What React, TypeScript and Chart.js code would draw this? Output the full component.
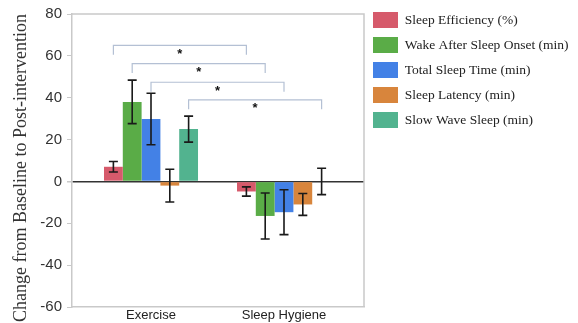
import React, { useEffect, useRef } from "react";
import { Chart, registerables } from "chart.js";

Chart.register(...registerables);

const categories = ["Exercise", "Sleep Hygiene"];
const seriesNames = [
  "Sleep Efficiency (%)",
  "Wake After Sleep Onset (min)",
  "Total Sleep Time (min)",
  "Sleep Latency (min)",
  "Slow Wave Sleep (min)",
];
const sleepEfficiency = [7, -4.8];
const wakeAfterSleepOnset = [38, -16.5];
const totalSleepTime = [29.8, -14.7];
const sleepLatency = [-2, -11];
const slowWaveSleep = [25, 0];

const sleepEfficiencyErr = [2.5, 2.2];
const wakeAfterSleepOnsetErr = [10.4, 11];
const totalSleepTimeErr = [12.3, 10.7];
const sleepLatencyErr = [7.8, 5.2];
const slowWaveSleepErr = [6.2, 6.3];

const yTickMin = -60;
const yTickMax = 80;
const yTickStep = 20;

// significance brackets: series index and bracket level (y value)
const bracketSeries = [0, 1, 2, 4];
const bracketLevels = [65, 56.3, 47.4, 39];
const bracketDrop = 4.5;

const seriesColors = ["#d65a6b", "#5aac47", "#4381e6", "#d8853c", "#52b38f"];

const seriesValues = [sleepEfficiency, wakeAfterSleepOnset, totalSleepTime, sleepLatency, slowWaveSleep];
const seriesErrors = [sleepEfficiencyErr, wakeAfterSleepOnsetErr, totalSleepTimeErr, sleepLatencyErr, slowWaveSleepErr];

const AXIS_GRAY = "#c9c9c9";

const errorBarPlugin = {
  id: "errorBars",
  afterDatasetsDraw(chart: any) {
    const ctx = chart.ctx;
    const y = chart.scales.y;
    ctx.save();
    ctx.strokeStyle = "#1a1a1a";
    ctx.lineWidth = 1.6;
    chart.data.datasets.forEach((ds: any, di: number) => {
      const meta = chart.getDatasetMeta(di);
      meta.data.forEach((bar: any, i: number) => {
        const v = seriesValues[di][i];
        const e = seriesErrors[di][i];
        const top = y.getPixelForValue(v + e);
        const bot = y.getPixelForValue(v - e);
        const x = bar.x;
        const cap = 4.5;
        ctx.beginPath();
        ctx.moveTo(x, top);
        ctx.lineTo(x, bot);
        ctx.moveTo(x - cap, top);
        ctx.lineTo(x + cap, top);
        ctx.moveTo(x - cap, bot);
        ctx.lineTo(x + cap, bot);
        ctx.stroke();
      });
    });
    ctx.restore();
  },
};

const bracketPlugin = {
  id: "brackets",
  afterDatasetsDraw(chart: any) {
    const ctx = chart.ctx;
    const y = chart.scales.y;
    ctx.save();
    bracketSeries.forEach((si, k) => {
      const meta = chart.getDatasetMeta(si);
      const x1 = meta.data[0].x;
      const x2 = meta.data[1].x;
      const yt = y.getPixelForValue(bracketLevels[k]);
      const yb = y.getPixelForValue(bracketLevels[k] - bracketDrop);
      ctx.strokeStyle = "#b4c0d4";
      ctx.lineWidth = 1.2;
      ctx.beginPath();
      ctx.moveTo(x1, yb);
      ctx.lineTo(x1, yt);
      ctx.lineTo(x2, yt);
      ctx.lineTo(x2, yb);
      ctx.stroke();
      ctx.fillStyle = "#111";
      ctx.font = "bold 13px 'Liberation Sans'";
      ctx.textAlign = "center";
      ctx.textBaseline = "middle";
      ctx.fillText("*", (x1 + x2) / 2, yt + 9);
    });
    ctx.restore();
  },
};

const boxPlugin = {
  id: "plotBox",
  beforeDatasetsDraw(chart: any) {
    const { ctx, chartArea } = chart;
    ctx.save();
    ctx.strokeStyle = AXIS_GRAY;
    ctx.lineWidth = 1.5;
    ctx.beginPath();
    ctx.moveTo(chartArea.left, chartArea.top);
    ctx.lineTo(chartArea.right, chartArea.top);
    ctx.lineTo(chartArea.right, chartArea.bottom);
    ctx.stroke();
    ctx.restore();
  },
};

export default function App() {
  const ref = useRef<HTMLCanvasElement>(null);
  useEffect(() => {
    document.body.style.margin = "0";
    const chart = new Chart(ref.current!, {
      type: "bar",
      data: {
        labels: categories,
        datasets: seriesNames.map((name, i) => ({
          label: name,
          data: seriesValues[i],
          backgroundColor: seriesColors[i],
          borderWidth: 0,
          categoryPercentage: 0.707,
          barPercentage: 1,
        })),
      },
      options: {
        animation: false,
        responsive: false,
        layout: { padding: { top: 3, right: 0, left: 0, bottom: 0 } },
        plugins: {
          legend: {
            position: "right",
            align: "start",
            maxWidth: 214,
            labels: {
              boxWidth: 25,
              boxHeight: 16,
              padding: 9,
              color: "#222",
              font: { family: "'Liberation Serif'", size: 13.5 },
            },
          },
          tooltip: { enabled: false },
        },
        scales: {
          x: {
            type: "category",
            offset: true,
            grid: { display: false, drawTicks: false },
            border: { color: AXIS_GRAY, width: 1.5 },
            ticks: {
              color: "#222",
              padding: 1,
              font: { family: "'Liberation Sans'", size: 13 },
            },
            afterBuildTicks(s: any) {
              s._startValue = -0.594;
              s._valueRange = 2.1955;
            },
            afterFit(s: any) {
              s.height = 16;
            },
          },
          y: {
            min: yTickMin,
            max: yTickMax,
            ticks: {
              stepSize: yTickStep,
              color: "#333",
              padding: 5,
              font: { family: "'Liberation Sans'", size: 15 },
            },
            grid: {
              color: (c: any) => (c.tick && c.tick.value === 0 ? "#333" : "rgba(0,0,0,0)"),
              lineWidth: (c: any) => (c.tick && c.tick.value === 0 ? 1.5 : 1),
              tickColor: AXIS_GRAY,
              tickLength: 5,
            },
            border: { color: AXIS_GRAY, width: 1.5 },
            title: {
              display: true,
              text: "Change from Baseline to Post-intervention",
              align: "end",
              color: "#333",
              padding: { top: 10, bottom: 0 },
              font: { family: "'Liberation Serif'", size: 18 },
            },
            afterFit(s: any) {
              s.width = 72;
              s.paddingTop = 14;
            },
          },
        },
      },
      plugins: [boxPlugin, errorBarPlugin, bracketPlugin],
    } as any);
    return () => chart.destroy();
  }, []);
  return (
    <div style={{ width: 578, height: 323 }}>
      <canvas ref={ref} width={578} height={323} style={{ display: "block" }} />
    </div>
  );
}
